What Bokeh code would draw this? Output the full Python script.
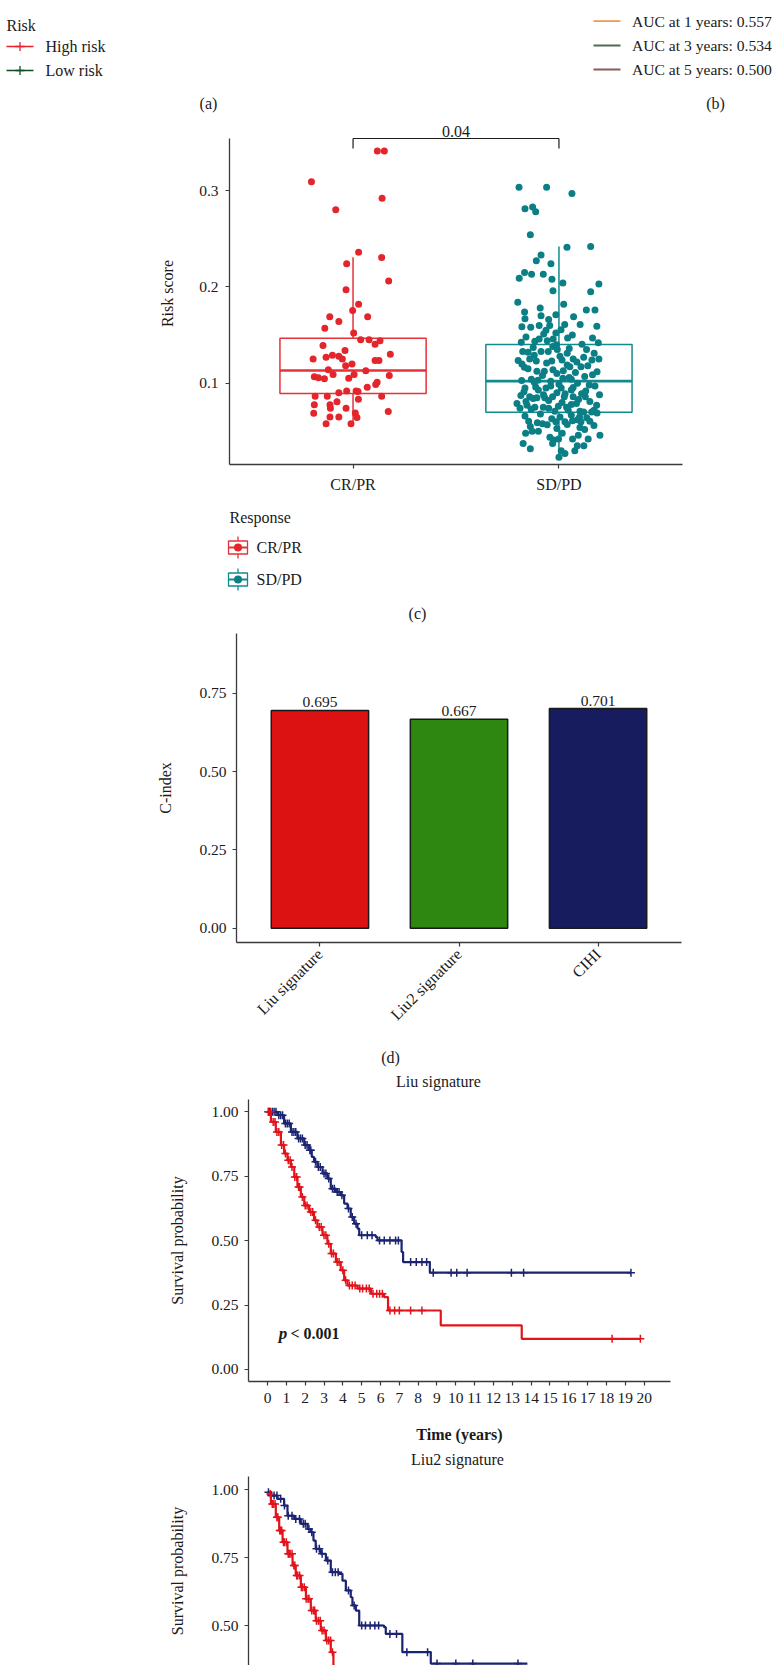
import numpy as np
from math import pi
from bokeh.plotting import figure
from bokeh.models import Range1d, FactorRange, FixedTicker, NumeralTickFormatter, ColumnDataSource
from bokeh.embed import file_html
from bokeh.resources import INLINE
from bokeh.core.properties import value

# ---------------- data ----------------
risk_labels = ["High risk", "Low risk"]
risk_colors = ["#E8232A", "#0F4D24"]
auc_labels = ["AUC at 1 years: 0.557", "AUC at 3 years: 0.534", "AUC at 5 years: 0.500"]
auc_colors = ["#EE9A4D", "#4E6B56", "#8A5A5C"]

resp_groups = ["CR/PR", "SD/PD"]
resp_fill = ["#E3262B", "#0A7F85"]
resp_line = ["#E53238", "#138A8E"]
box_q1 = [0.0893, 0.0699]
box_med = [0.1132, 0.1021]
box_q3 = [0.1467, 0.1402]
box_lo = [0.0582, 0.0218]
box_hi = [0.2308, 0.2420]
p_value_label = "0.04"

crpr_score = [0.341, 0.341, 0.309, 0.292, 0.280, 0.236, 0.2305, 0.224, 0.206, 0.197,
              0.182, 0.1755, 0.169, 0.169, 0.164, 0.157, 0.152, 0.145, 0.145, 0.144,
              0.1405, 0.139, 0.134, 0.130, 0.129, 0.127, 0.128, 0.125, 0.125, 0.1236,
              0.1236, 0.120, 0.118, 0.114, 0.113, 0.109, 0.109, 0.108, 0.1066, 0.1056,
              0.1046, 0.105, 0.101, 0.0986, 0.0958, 0.092, 0.092, 0.0915, 0.090, 0.0865,
              0.0865, 0.0865, 0.0834, 0.0807, 0.0776, 0.0776, 0.074, 0.074, 0.0706, 0.0689,
              0.069, 0.065, 0.065, 0.0643, 0.058, 0.058]
crpr_jitter = [0.118, 0.152, -0.202, 0.141, -0.084, 0.027, 0.139, -0.031, 0.173, -0.034,
               0.027, -0.002, -0.113, 0.071, -0.069, -0.137, 0.003, 0.037, 0.078, 0.131,
               0.107, -0.146, -0.039, 0.181, -0.100, -0.131, -0.069, -0.052, -0.194, 0.107,
               0.126, -0.005, -0.036, -0.120, 0.062, -0.097, 0.005, 0.176, -0.188, -0.168,
               -0.139, -0.021, 0.117, 0.110, 0.069, -0.031, 0.015, 0.024, -0.069, -0.184,
               -0.125, 0.139, 0.026, -0.078, -0.188, -0.112, -0.110, -0.034, 0.171, -0.191,
               0.011, -0.112, -0.069, 0.019, -0.131, -0.010]

# SD/PD points as (jitter, risk score)
sdpd_points = [
    (-0.194, 0.3035), (-0.060, 0.3035), (0.063, 0.297), (-0.165, 0.281), (-0.128, 0.283),
    (-0.113, 0.278), (-0.139, 0.254), (0.039, 0.241), (0.154, 0.242), (-0.087, 0.233),
    (-0.110, 0.227), (-0.039, 0.224), (-0.167, 0.215), (-0.193, 0.209), (-0.133, 0.213),
    (-0.076, 0.213), (-0.034, 0.208), (0.019, 0.204), (0.194, 0.203), (-0.029, 0.196),
    (0.154, 0.195), (-0.200, 0.184), (0.023, 0.182), (-0.091, 0.178), (0.133, 0.176),
    (0.175, 0.176), (-0.167, 0.174), (-0.087, 0.170), (-0.015, 0.171), (0.071, 0.169),
    (-0.165, 0.167), (-0.050, 0.166), (0.028, 0.161), (0.103, 0.161), (-0.180, 0.1586),
    (-0.137, 0.158), (-0.096, 0.160), (-0.045, 0.160), (0.010, 0.1555), (0.184, 0.159),
    (-0.063, 0.155), (-0.074, 0.151), (-0.015, 0.152), (0.042, 0.147), (0.163, 0.147),
    (-0.117, 0.1436), (-0.096, 0.146), (-0.057, 0.144), (-0.028, 0.146), (-0.183, 0.1426),
    (0.112, 0.1405), (0.191, 0.142), (-0.011, 0.140), (-0.176, 0.133), (-0.150, 0.132),
    (-0.087, 0.133), (-0.052, 0.133), (-0.008, 0.135), (0.134, 0.135), (0.171, 0.131),
    (-0.198, 0.1236), (-0.142, 0.125), (-0.110, 0.123), (-0.035, 0.123), (0.015, 0.124),
    (0.069, 0.125), (0.087, 0.122), (0.160, 0.124), (0.194, 0.125), (-0.168, 0.1166),
    (-0.107, 0.1125), (-0.071, 0.1125), (-0.029, 0.114), (0.021, 0.113), (0.053, 0.117),
    (0.107, 0.117), (0.163, 0.1087), (-0.181, 0.1028), (-0.134, 0.104), (-0.102, 0.103),
    (-0.040, 0.102), (0.019, 0.105), (0.069, 0.0955), (0.147, 0.098), (-0.165, 0.095),
    (-0.113, 0.096), (-0.063, 0.095), (0.011, 0.095), (0.110, 0.089), (0.197, 0.088),
    (-0.185, 0.0872), (-0.142, 0.086), (-0.107, 0.085), (-0.069, 0.085), (-0.031, 0.086),
    (0.026, 0.086), (0.069, 0.086), (0.128, 0.086), (-0.204, 0.079), (-0.155, 0.077),
    (-0.117, 0.075), (-0.076, 0.075), (-0.050, 0.074), (-0.003, 0.076), (0.037, 0.075),
    (0.060, 0.078), (0.102, 0.071), (0.183, 0.077), (0.159, 0.070), (-0.189, 0.074),
    (-0.147, 0.0605), (-0.105, 0.059), (-0.057, 0.0568), (-0.015, 0.060), (0.029, 0.060),
    (0.066, 0.061), (0.107, 0.060), (0.150, 0.0605), (-0.139, 0.055), (0.102, 0.054),
    (-0.162, 0.048), (-0.130, 0.050), (0.016, 0.048), (0.094, 0.046), (0.199, 0.046),
    (-0.044, 0.044), (-0.026, 0.041), (-0.002, 0.042), (0.066, 0.042), (0.142, 0.042),
    (-0.174, 0.0374), (-0.031, 0.0375), (0.089, 0.035), (0.121, 0.035), (-0.139, 0.032),
    (0.011, 0.030), (0.077, 0.030), (0.029, 0.027), (0.000, 0.023),
    (-0.160, 0.148), (-0.030, 0.138), (0.050, 0.136), (-0.120, 0.129), (0.005, 0.128),
    (0.120, 0.127), (-0.060, 0.121), (0.040, 0.119), (0.140, 0.118), (-0.150, 0.115),
    (0.080, 0.111), (-0.010, 0.110), (-0.080, 0.108), (0.125, 0.107), (0.050, 0.106),
    (-0.120, 0.101), (0.090, 0.100), (0.000, 0.099), (-0.040, 0.097), (0.175, 0.097),
    (-0.100, 0.093), (0.060, 0.093), (0.130, 0.092), (-0.170, 0.091), (-0.010, 0.090),
    (0.030, 0.089), (-0.125, 0.084), (0.095, 0.083), (-0.050, 0.082), (0.150, 0.081),
    (0.015, 0.080), (0.085, 0.079), (-0.135, 0.073), (0.045, 0.072), (-0.020, 0.071),
    (0.120, 0.070), (0.185, 0.069), (-0.090, 0.068), (0.060, 0.067), (-0.165, 0.066),
    (0.005, 0.065), (0.135, 0.064), (-0.035, 0.063), (0.090, 0.062), (-0.080, 0.058),
    (0.040, 0.057), (0.170, 0.056), (-0.010, 0.053), (0.125, 0.052), (-0.100, 0.050),
    (0.100, 0.065), (0.170, 0.072), (-0.160, 0.081), (-0.075, 0.088), (0.060, 0.104),
    (0.185, 0.112), (-0.180, 0.120), (0.040, 0.131), (-0.125, 0.137), (0.065, 0.150),
]

models = ["Liu signature", "Liu2 signature", "CIHI"]
cindex = [0.695, 0.667, 0.701]
bar_colors = ["#DC1212", "#2E8710", "#161C5E"]

km_years = list(range(0, 21))
km_high_color = "#E2131A"
km_low_color = "#1B2470"

liu_low_t = [0, 0.18, 0.53, 0.88, 1.24, 1.59, 1.95, 2.21, 2.35, 2.47, 2.65, 2.92, 3.18, 3.36,
             3.63, 3.89, 4.07, 4.25, 4.42, 4.60, 4.78, 4.87, 5.75, 5.84, 7.12, 7.20, 8.62, 19.3]
liu_low_s = [1.0, 1.0, 0.987, 0.955, 0.922, 0.897, 0.871, 0.851, 0.825, 0.806, 0.786, 0.761,
             0.741, 0.702, 0.689, 0.676, 0.644, 0.625, 0.592, 0.566, 0.547, 0.521, 0.514, 0.501,
             0.456, 0.417, 0.376, 0.376]
liu_low_cens = [0.05, 0.12, 0.25, 0.35, 0.45, 0.6, 0.7, 0.8, 0.95, 1.05, 1.15, 1.3, 1.4, 1.5,
                1.65, 1.75, 1.85, 2.0, 2.1, 2.25, 2.3, 2.55, 2.7, 2.8, 3.0, 3.1, 3.25, 3.45,
                3.55, 3.7, 3.8, 3.95, 4.3, 4.5, 4.7, 5.0, 5.3, 5.55, 5.95, 6.2, 6.5, 6.8, 6.95,
                7.6, 7.9, 8.2, 8.45, 8.8, 9.75, 10.05, 10.6, 12.95, 13.6, 19.3]
liu_high_t = [0, 0.18, 0.44, 0.71, 0.88, 1.06, 1.24, 1.42, 1.59, 1.77, 1.95, 2.21, 2.47, 2.65,
              2.92, 3.18, 3.36, 3.63, 3.89, 4.07, 4.25, 4.78, 5.49, 6.19, 6.40, 9.20, 13.5, 19.8]
liu_high_s = [1.0, 0.961, 0.922, 0.871, 0.838, 0.812, 0.786, 0.747, 0.708, 0.670, 0.637, 0.611,
              0.579, 0.553, 0.521, 0.488, 0.450, 0.417, 0.385, 0.346, 0.326, 0.314, 0.294,
              0.281, 0.229, 0.171, 0.119, 0.119]
liu_high_cens = [0.05, 0.15, 0.3, 0.4, 0.5, 0.6, 0.75, 0.85, 0.95, 1.1, 1.2, 1.3, 1.45, 1.55,
                 1.65, 1.7, 1.85, 2.0, 2.1, 2.3, 2.4, 2.55, 2.75, 2.85, 3.0, 3.1, 3.25, 3.4,
                 3.5, 3.7, 3.8, 4.0, 4.15, 4.35, 4.5, 4.65, 4.9, 5.05, 5.25, 5.4, 5.6, 5.8,
                 5.95, 6.1, 6.5, 6.75, 7.0, 7.6, 8.2, 18.3, 19.8]

liu2_low_t = [0, 0.18, 0.53, 0.88, 1.06, 1.42, 1.77, 2.12, 2.30, 2.44, 2.56, 2.83, 3.10, 3.36,
              3.80, 3.98, 4.16, 4.42, 4.51, 4.69, 4.87, 6.19, 6.28, 7.16, 8.67, 13.8]
liu2_low_s = [0.99, 0.978, 0.966, 0.941, 0.904, 0.892, 0.874, 0.855, 0.843, 0.8125, 0.782,
              0.764, 0.739, 0.696, 0.690, 0.665, 0.629, 0.604, 0.574, 0.555, 0.50, 0.494,
              0.469, 0.402, 0.36, 0.36]
liu2_low_cens = [0.05, 0.2, 0.35, 0.5, 0.7, 0.9, 1.1, 1.3, 1.5, 1.7, 1.9, 2.0, 2.2, 2.35,
                 2.6, 2.75, 2.9, 3.2, 3.45, 3.6, 3.75, 4.3, 4.6, 5.0, 5.2, 5.45, 5.7, 5.9,
                 6.5, 6.85, 7.4, 8.5, 9.0, 10.0, 10.9, 13.3]
liu2_high_t = [0, 0.18, 0.44, 0.62, 0.80, 1.06, 1.33, 1.50, 1.77, 2.04, 2.30, 2.56, 2.83,
               3.10, 3.36, 3.50]
liu2_high_s = [0.984, 0.947, 0.898, 0.849, 0.806, 0.764, 0.721, 0.684, 0.641, 0.598, 0.555,
               0.518, 0.482, 0.445, 0.402, 0.353]
liu2_high_cens = [0.15, 0.25, 0.3, 0.4, 0.5, 0.55, 0.65, 0.7, 0.75, 0.85, 0.9, 1.0, 1.1, 1.15,
                  1.2, 1.3, 1.4, 1.45, 1.55, 1.6, 1.7, 1.8, 1.85, 1.95, 2.05, 2.15, 2.2, 2.35,
                  2.45, 2.5, 2.6, 2.7, 2.8, 2.9, 3.0, 3.15, 3.25, 3.35, 3.45]

# ---------------- helpers ----------------
FONT = "Liberation Serif"
W = 773
INK = "#1a1a1a"
AX = "#3a3a3a"
TICK = "15.5px"


def strip(top, bottom):
    p = figure(width=W, height=bottom - top, x_range=Range1d(0, W),
               y_range=Range1d(bottom, top), x_axis_location=None, y_axis_location=None,
               toolbar_location=None, output_backend="svg", min_border=0)
    p.outline_line_color = None
    p.xgrid.grid_line_color = None
    p.ygrid.grid_line_color = None
    return p


def txt(p, x, y, s, size="16px", align="left", style="normal"):
    p.text(x=[x], y=[y], text=[s], text_font=value(FONT), text_font_size=size,
           text_align=align, text_baseline="middle", text_font_style=style, text_color=INK)


def style_axes(p):
    for ax in p.axis:
        ax.axis_line_color = AX
        ax.axis_line_width = 1.3
        ax.major_tick_line_color = AX
        ax.major_tick_line_width = 1.2
        ax.major_tick_out = 4
        ax.major_tick_in = 0
        ax.minor_tick_line_color = None
        ax.major_label_text_font = FONT
        ax.major_label_text_font_size = TICK
        ax.major_label_text_color = INK
        ax.axis_label_text_font = FONT
        ax.axis_label_text_font_size = "16px"
        ax.axis_label_text_font_style = "normal"
        ax.axis_label_text_color = INK
    p.xgrid.grid_line_color = None
    p.ygrid.grid_line_color = None
    p.outline_line_color = None


# ---------------- (a)/(b) legends ----------------
p1 = strip(0, 120)
txt(p1, 6, 25, "Risk")
for lab, col, yy in zip(risk_labels, risk_colors, [46, 70]):
    p1.line([6, 33], [yy, yy], line_color=col, line_width=1.6)
    p1.scatter([19.5], [yy], marker="cross", size=9, line_color=col, line_width=1.3)
    txt(p1, 45, yy, lab)
for lab, col, yy in zip(auc_labels, auc_colors, [20.7, 45, 69]):
    p1.line([593, 620], [yy, yy], line_color=col, line_width=1.8)
    txt(p1, 631.5, yy, lab, size="15.6px")
txt(p1, 208, 103, "(a)", align="center")
txt(p1, 715, 103, "(b)", align="center")

# ---------------- (c) boxplot ----------------
p2 = figure(width=W, height=378, min_border_left=229, min_border_right=91, min_border_top=2,
            min_border_bottom=34,
            x_range=FactorRange(factors=resp_groups, range_padding=0.1, range_padding_units="absolute"),
            y_range=Range1d(0.0156, 0.3706), toolbar_location=None, output_backend="svg")
style_axes(p2)
p2.xaxis.major_label_text_font_size = "16px"
p2.xaxis.major_label_standoff = 7
p2.yaxis.ticker = FixedTicker(ticks=[0.1, 0.2, 0.3])
p2.yaxis.formatter = NumeralTickFormatter(format="0.0")
p2.yaxis.bounds = (0.0156, 0.354)
p2.yaxis.axis_label = "Risk score"
p2.yaxis.axis_label_standoff = 20
p2.yaxis.major_label_standoff = 7

bw = 0.71
bsrc = ColumnDataSource(dict(g=resp_groups, q1=box_q1, med=box_med, q3=box_q3, lo=box_lo,
                             hi=box_hi, lc=resp_line,
                             m0=[(g, -bw / 2) for g in resp_groups],
                             m1=[(g, bw / 2) for g in resp_groups]))
p2.segment(x0="g", y0="q3", x1="g", y1="hi", line_color="lc", line_width=1.5, source=bsrc)
p2.segment(x0="g", y0="lo", x1="g", y1="q1", line_color="lc", line_width=1.5, source=bsrc)
p2.vbar(x="g", width=bw, bottom="q1", top="q3", fill_color="white", line_color="lc",
        line_width=1.5, source=bsrc)
p2.segment(x0="m0", y0="med", x1="m1", y1="med", line_color="lc", line_width=2.6, source=bsrc)

p2.scatter(x=[("CR/PR", j) for j in crpr_jitter], y=crpr_score, size=7,
           fill_color=resp_fill[0], line_color=None)
p2.scatter(x=[("SD/PD", j) for j, _ in sdpd_points], y=[v for _, v in sdpd_points], size=7,
           fill_color=resp_fill[1], line_color=None)

br_top, br_tip = 0.354, 0.3436
p2.segment(x0=["CR/PR", "CR/PR", "SD/PD"], y0=[br_top, br_top, br_top],
           x1=["SD/PD", "CR/PR", "SD/PD"], y1=[br_top, br_tip, br_tip],
           line_color=INK, line_width=1.2)
p2.text(x=[("CR/PR", 0.5)], y=[0.3613], text=[p_value_label], text_font=value(FONT),
        text_font_size="16px", text_align="center", text_baseline="middle", text_color=INK)

# ---------------- Response legend + (c) ----------------
p3 = strip(498, 625)
txt(p3, 229, 517, "Response")
for g, fc, lc, yy in zip(resp_groups, resp_fill, resp_line, [547, 579]):
    p3.segment(x0=[237.5], y0=[yy - 11], x1=[237.5], y1=[yy + 11], line_color=lc, line_width=1.3)
    p3.rect(x=[237.5], y=[yy], width=19, height=13, fill_color="white", line_color=lc, line_width=1.3)
    p3.segment(x0=[228], y0=[yy], x1=[247], y1=[yy], line_color=lc, line_width=1.8)
    p3.scatter([237.5], [yy], size=8, fill_color=fc, line_color=None)
    txt(p3, 256, yy, g)
txt(p3, 417, 613, "(c)", align="center")

# ---------------- (d) C-index bars ----------------
p4 = figure(width=W, height=415, min_border_left=236, min_border_right=92, min_border_top=8,
            min_border_bottom=98,
            x_range=FactorRange(factors=models, range_padding=0.1, range_padding_units="absolute"),
            y_range=Range1d(-0.0457, 0.9405), toolbar_location=None, output_backend="svg")
style_axes(p4)
p4.xaxis.major_label_text_font_size = "16px"
p4.xaxis.major_label_orientation = pi / 4
p4.yaxis.ticker = FixedTicker(ticks=[0, 0.25, 0.5, 0.75])
p4.yaxis.formatter = NumeralTickFormatter(format="0.00")
p4.yaxis.axis_label = "C-index"
p4.yaxis.axis_label_standoff = 22
p4.yaxis.major_label_standoff = 6
p4.vbar(x=models, top=cindex, bottom=0, width=0.7, fill_color=bar_colors,
        line_color="#1a1a1a", line_width=1.5)
p4.text(x=models, y=cindex, text=[f"{v:.3f}" for v in cindex], text_font=value(FONT),
        text_font_size="15.5px", text_align="center", text_baseline="middle", y_offset=-8,
        text_color=INK)

# ---------------- caption (d) + title ----------------
p5 = strip(1040, 1095)
txt(p5, 390, 1057, "(d)", align="center")
txt(p5, 438, 1081, "Liu signature", align="center")


def km(p, t, s, cens, color):
    p.step(x=t, y=s, mode="after", line_color=color, line_width=2.2)
    t_arr = np.array(t)
    s_arr = np.array(s)
    idx = np.searchsorted(t_arr, np.array(cens), side="right") - 1
    p.scatter(x=cens, y=s_arr[idx], marker="cross", size=8, line_color=color, line_width=1.5)


# ---------------- (e) KM Liu signature ----------------
p6 = figure(width=W, height=350, min_border_left=248, min_border_right=103, min_border_top=4,
            min_border_bottom=64, x_range=Range1d(-1.01, 21.4), y_range=Range1d(-0.0466, 1.048),
            toolbar_location=None, output_backend="svg")
style_axes(p6)
p6.xaxis.ticker = FixedTicker(ticks=km_years)
p6.xaxis.major_label_standoff = 7
p6.xaxis.axis_label = "Time (years)"
p6.xaxis.axis_label_text_font_style = "bold"
p6.xaxis.axis_label_standoff = 20
p6.yaxis.ticker = FixedTicker(ticks=[0, 0.25, 0.5, 0.75, 1.0])
p6.yaxis.formatter = NumeralTickFormatter(format="0.00")
p6.yaxis.axis_label = "Survival probability"
p6.yaxis.axis_label_standoff = 22
p6.yaxis.major_label_standoff = 6
km(p6, liu_low_t, liu_low_s, liu_low_cens, km_low_color)
km(p6, liu_high_t, liu_high_s, liu_high_cens, km_high_color)
p6.text(x=[0.6], y=[0.141], text=["p"], text_font=value(FONT), text_font_size="17px",
        text_font_style="bold italic", text_baseline="middle", text_color=INK)
p6.text(x=[1.22], y=[0.141], text=["< 0.001"], text_font=value(FONT), text_font_size="16px",
        text_font_style="bold", text_baseline="middle", text_color=INK)

# ---------------- title Liu2 ----------------
p7 = strip(1445, 1472)
txt(p7, 457, 1459, "Liu2 signature", align="center")

# ---------------- (f) KM Liu2 signature (cut by page) ----------------
p8 = figure(width=W, height=193, min_border_left=248, min_border_right=103, min_border_top=4,
            min_border_bottom=0, x_range=Range1d(-1.01, 21.4), y_range=Range1d(0.353, 1.048),
            x_axis_location=None, toolbar_location=None, output_backend="svg")
style_axes(p8)
p8.yaxis.ticker = FixedTicker(ticks=[0, 0.25, 0.5, 0.75, 1.0])
p8.yaxis.formatter = NumeralTickFormatter(format="0.00")
p8.yaxis.major_label_standoff = 6
p8.yaxis.axis_label = "Survival probability"
p8.yaxis.axis_label_standoff = 22
km(p8, liu2_low_t, liu2_low_s, liu2_low_cens, km_low_color)
km(p8, liu2_high_t, liu2_high_s, liu2_high_cens, km_high_color)

# separate roots so that each panel keeps its own frame position
panels = [p1, p2, p3, p4, p5, p6, p7, p8]
open("out.html", "w").write(file_html(panels, INLINE))
